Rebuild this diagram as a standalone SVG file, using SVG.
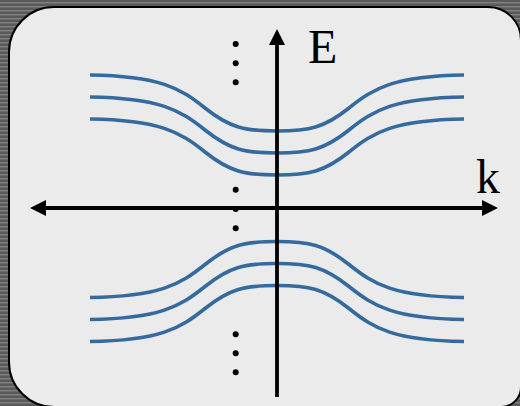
<svg xmlns="http://www.w3.org/2000/svg" width="520" height="406" viewBox="0 0 520 406">
  <defs>
    <pattern id="stripes" width="4" height="4" patternUnits="userSpaceOnUse">
      <rect width="4" height="4" fill="#5a5a5a"/>
      <rect y="2" width="4" height="1" fill="#808080"/>
      <rect y="3" width="4" height="1" fill="#6a6a6a"/>
    </pattern>
    <marker id="arr" viewBox="0 0 16 16" refX="0" refY="8" markerWidth="16" markerHeight="16" markerUnits="userSpaceOnUse" orient="auto-start-reverse">
      <path d="M0,0 L16,8 L0,16 Z" fill="#000"/>
    </marker>
    <path id="band" d="M90,75 C160,76 180,88 205,108 C230,128 245,131 277,131 C309,131 324,128 349,108 C374,88 394,76 464,75"/>
  </defs>
  <style>
    .curve { fill: none; stroke: #356a9f; stroke-width: 3.6; }
    .axis { stroke: #000; stroke-width: 3.8; fill: none; }
    .dot { fill: #000; }
    .lbl { font-family: "Liberation Serif", "Times New Roman", serif; font-size: 48px; fill: #000; }
  </style>
  <rect width="520" height="406" fill="url(#stripes)"/>
  <path id="panel" d="M54,7 H488 A33,33 0 0 1 521,40 V387 A20,20 0 0 1 501,407 H54 A45,45 0 0 1 9,362 V52 A45,45 0 0 1 54,7 Z" fill="#ebebeb" stroke="#000" stroke-width="2"/>
  <g id="upper-bands">
    <use href="#band" class="curve"/>
    <use href="#band" class="curve" transform="translate(0,22)"/>
    <use href="#band" class="curve" transform="translate(0,44)"/>
  </g>
  <g id="lower-bands" transform="matrix(1 0 0 -1 0 416.5)">
    <use href="#band" class="curve"/>
    <use href="#band" class="curve" transform="translate(0,22)"/>
    <use href="#band" class="curve" transform="translate(0,44)"/>
  </g>
  <g id="dots">
    <circle class="dot" cx="235.7" cy="44" r="3"/>
    <circle class="dot" cx="235.7" cy="63.3" r="3"/>
    <circle class="dot" cx="235.7" cy="82.3" r="3"/>
    <circle class="dot" cx="235.7" cy="189.7" r="3"/>
    <circle class="dot" cx="235.7" cy="209" r="3"/>
    <circle class="dot" cx="235.7" cy="228.3" r="3"/>
    <circle class="dot" cx="235.7" cy="334.3" r="3"/>
    <circle class="dot" cx="235.7" cy="353.3" r="3"/>
    <circle class="dot" cx="235.7" cy="372.3" r="3"/>
  </g>
  <g id="axes">
    <line class="axis" x1="277" y1="397" x2="277" y2="45" marker-end="url(#arr)"/>
    <line class="axis" x1="46" y1="208" x2="482" y2="208" marker-start="url(#arr)" marker-end="url(#arr)"/>
  </g>
  <g id="labels">
    <text class="lbl" x="308" y="63">E</text>
    <text class="lbl" x="476" y="193">k</text>
  </g>
</svg>
